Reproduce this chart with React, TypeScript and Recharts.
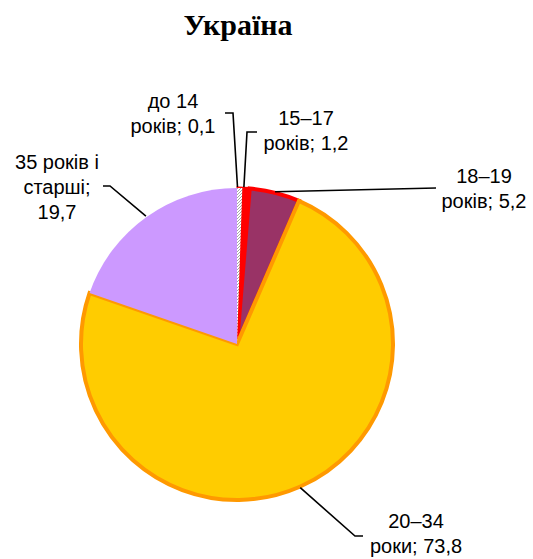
import { PieChart, Pie, Cell } from "recharts"

const categories = ["до 14 років", "15–17 років", "18–19 років", "20–34 роки", "35 років і старші"]
const shares = [0.1, 1.2, 5.2, 73.8, 19.7]
const labelLines = [
  ["до 14", "років; {v}"],
  ["15–17", "років; {v}"],
  ["18–19", "років; {v}"],
  ["20–34", "роки; {v}"],
  ["35 років і", "старші;", "{v}"],
]

const fills = ["url(#hatch)", "#FF0000", "#993366", "#FFCC00", "#CC99FF"]
const strokes = ["none", "#FF0000", "#FF0000", "#FF9900", "none"]
const strokeWidths = [0, 3, 4, 4, 0]

// label boxes and leader-line bends, relative to the pie centre
const labelLayout = [
  { tx: -64, ty: -236, ex: -4, ey: -231, lx: -12, ly: -231 },
  { tx: 69, ty: -219, ex: 10, ey: -212, lx: 20, ly: -212 },
  { tx: 247, ty: -161, ex: 199, ey: -156, lx: 199, ly: -156 },
  { tx: 179, ty: 184, ex: 118, ey: 192, lx: 126, ly: 192 },
  { tx: -180, ty: -175, ex: -127, ey: -158, lx: -134, ly: -158 },
]

const data = categories.map((name, i) => ({ name, value: shares[i] }))

const RAD = Math.PI / 180
const fmt = (v: number) => String(v).replace(".", ",")

function renderLabel(props: any) {
  const { cx, cy, midAngle, outerRadius, index } = props
  const L = labelLayout[index]
  const sx = cx + (outerRadius + 1) * Math.cos(-midAngle * RAD)
  const sy = cy + (outerRadius + 1) * Math.sin(-midAngle * RAD)
  const pts = `${sx},${sy} ${cx + L.ex},${cy + L.ey} ${cx + L.lx},${cy + L.ly}`
  const lines = labelLines[index].map((s) => s.replace("{v}", fmt(shares[index])))
  return (
    <g key={`lbl-${index}`}>
      <polyline points={pts} fill="none" stroke="#000" strokeWidth={1.6} />
      <text
        x={cx + L.tx}
        y={cy + L.ty}
        textAnchor="middle"
        fontFamily="'Liberation Sans', Arial, sans-serif"
        fontSize={20}
        fill="#000"
      >
        {lines.map((s, i) => (
          <tspan key={i} x={cx + L.tx} dy={i === 0 ? 0 : 25}>
            {s}
          </tspan>
        ))}
      </text>
    </g>
  )
}

export default function App() {
  return (
    <div style={{ position: "absolute", left: 0, top: 0, width: 533, height: 559, background: "#fff" }}>
      <svg width={533} height={60} style={{ position: "absolute", left: 0, top: 0 }}>
        <text
          x={238}
          y={35}
          textAnchor="middle"
          fontFamily="'Liberation Serif', 'Times New Roman', serif"
          fontWeight="bold"
          fontSize={30}
          fill="#000"
        >
          Україна
        </text>
      </svg>
      <div style={{ position: "absolute", left: 0, top: 0 }}>
        <PieChart width={533} height={559} margin={{ top: 0, right: 0, bottom: 0, left: 0 }}>
          <defs>
            <pattern id="hatch" width="3" height="3" patternUnits="userSpaceOnUse">
              <rect width="3" height="3" fill="#fff" />
              <path d="M-1,1 l2,-2 M0,3 l3,-3 M2,4 l2,-2" stroke="#8c8c8c" strokeWidth={0.8} />
            </pattern>
          </defs>
          <Pie
            data={data}
            dataKey="value"
            nameKey="name"
            cx={237}
            cy={344}
            outerRadius={156}
            startAngle={90}
            endAngle={-270}
            isAnimationActive={false}
            label={renderLabel}
            labelLine={false}
          >
            {data.map((d, i) => (
              <Cell key={d.name} fill={fills[i]} stroke={strokes[i]} strokeWidth={strokeWidths[i]} />
            ))}
          </Pie>
          <Pie
            data={data}
            dataKey="value"
            nameKey="name"
            cx={237}
            cy={344}
            outerRadius={156}
            startAngle={90}
            endAngle={-270}
            minAngle={1.6}
            isAnimationActive={false}
            label={false}
            labelLine={false}
          >
            {data.map((d, i) => (
              <Cell key={d.name} fill={i === 0 ? fills[0] : "none"} stroke="none" />
            ))}
          </Pie>
        </PieChart>
      </div>
    </div>
  )
}
